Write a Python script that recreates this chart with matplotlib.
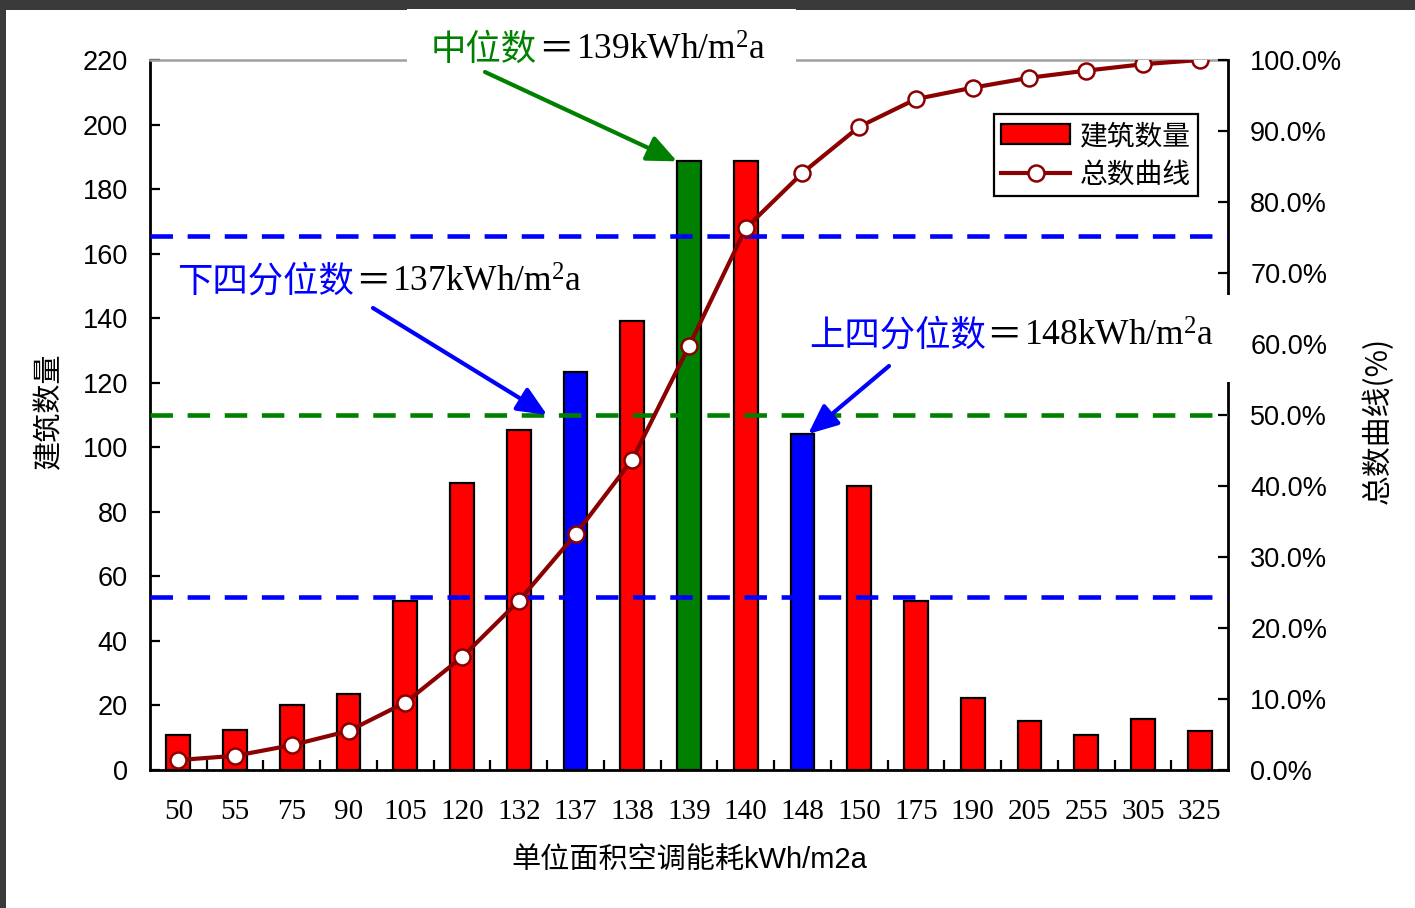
import matplotlib
matplotlib.use("Agg")
import matplotlib.pyplot as plt
from matplotlib.patches import Rectangle
from matplotlib.ticker import PercentFormatter, FixedLocator, NullFormatter

plt.rcParams['mathtext.fontset'] = 'custom'
plt.rcParams['mathtext.rm'] = 'Liberation Serif'
plt.rcParams['mathtext.it'] = 'Liberation Serif'
plt.rcParams['mathtext.default'] = 'rm'

# ---------------- data ----------------
categories = ['50', '55', '75', '90', '105', '120', '132', '137', '138', '139',
              '140', '148', '150', '175', '190', '205', '255', '305', '325']
counts = [11, 12.4, 20, 23.7, 52.3, 88.9, 105.4, 123.4, 139.1, 188.6,
          188.6, 104.1, 88.0, 52.3, 22.3, 15.2, 10.8, 15.8, 12.0]
bar_colors = ['red'] * 7 + ['blue', 'red', 'green', 'red', 'blue'] + ['red'] * 7
cumulative_pct = [1.4, 2.0, 3.5, 5.5, 9.5, 15.9, 23.8, 33.2, 43.7, 59.7,
                  76.3, 84.1, 90.6, 94.5, 96.1, 97.5, 98.5, 99.4, 100.0]
quartile_lines_pct = [75.2, 50.0, 24.4]
quartile_line_colors = ['blue', 'green', 'blue']
left_ticks = list(range(0, 221, 20))
right_ticks = list(range(0, 101, 10))

W, H = 1415, 908
fig = plt.figure(figsize=(W / 100, H / 100), dpi=100)
fig.patch.set_facecolor('white')

def fx(px):
    return px / W

def fy(py):
    return 1 - py / H

# screenshot-like dark frame
fig.add_artist(Rectangle((0, fy(10)), 1, 10 / H, transform=fig.transFigure,
                         facecolor='#3a3a3a', edgecolor='none', zorder=-5))
fig.add_artist(Rectangle((0, 0), 6 / W, 1, transform=fig.transFigure,
                         facecolor='#3a3a3a', edgecolor='none', zorder=-5))

ax = fig.add_axes([fx(150), fy(770), fx(1228) - fx(150), fy(60) - fy(770)])
ax2 = ax.twinx()

n = len(categories)
xs = list(range(n))
bw = 0.42
bars = ax.bar(xs, counts, width=bw, color=bar_colors, edgecolor='black',
              linewidth=1.6, label='建筑数量', zorder=2)

ax.set_xlim(-0.5, n - 0.5)
ax.set_ylim(0, 220)
ax.set_yticks(left_ticks)
ax.set_xticks(xs)
ax.set_xticklabels(categories, fontfamily='Liberation Serif', fontsize=21)
ax.xaxis.set_minor_locator(FixedLocator([i + 0.5 for i in range(n - 1)]))
ax.xaxis.set_minor_formatter(NullFormatter())
ax.tick_params(axis='x', which='major', length=0, pad=21)
ax.tick_params(axis='x', which='minor', direction='in', length=7, width=1.6)
ax.tick_params(axis='y', direction='in', length=7, width=1.6, pad=16,
               labelsize=19.5)
for lab in ax.get_yticklabels():
    lab.set_fontfamily('Liberation Sans')

for s in ['left', 'bottom']:
    ax.spines[s].set_linewidth(2.0)
    ax.spines[s].set_color('black')
ax.spines['top'].set_color('#a0a0a0')
ax.spines['top'].set_linewidth(1.8)
ax.spines['right'].set_visible(False)

# right axis
ax2.set_ylim(0, 100)
ax2.set_yticks(right_ticks)
ax2.yaxis.set_major_formatter(PercentFormatter(xmax=100, decimals=1))
ax2.tick_params(axis='y', direction='in', length=7, width=1.6, pad=16,
                labelsize=19.5)
for lab in ax2.get_yticklabels():
    lab.set_fontfamily('Liberation Sans')
ax2.spines['right'].set_linewidth(2.0)
ax2.spines['right'].set_color('black')
for s in ['top', 'left', 'bottom']:
    ax2.spines[s].set_visible(False)

for val, col in zip(quartile_lines_pct, quartile_line_colors):
    ax2.axhline(val, color=col, linewidth=3.3, linestyle=(0, (4.9, 3.2)), zorder=3)

line, = ax2.plot(xs, cumulative_pct, color='#8B0000', linewidth=3,
                 marker='o', markersize=11.5, markerfacecolor='white',
                 markeredgecolor='#8B0000', markeredgewidth=1.8,
                 label='总数曲线', zorder=4)

# axis titles
cjk = ['Noto Sans CJK SC']
fig.text(fx(49), fy(411), '建筑数量', rotation=90, ha='center', va='center',
         fontsize=21, family=cjk)
fig.text(fx(1378), fy(420), '总数曲线(%)', rotation=90, ha='center', va='center',
         fontsize=21.5, family=cjk)
fig.text(fx(689), fy(860), '单位面积空调能耗kWh/m2a', ha='center', va='center',
         fontsize=21, family=['Liberation Sans', 'Noto Sans CJK SC'])

# legend
leg = ax2.legend([bars.patches[0], line], ['建筑数量', '总数曲线'],
                 loc='upper right', bbox_to_anchor=(fx(1198), fy(114)),
                 bbox_transform=fig.transFigure, fancybox=False,
                 edgecolor='black', framealpha=1, handlelength=2.5,
                 handletextpad=0.35, borderpad=0.25, labelspacing=0.3,
                 borderaxespad=0, prop={'family': cjk, 'size': 20})
leg.get_frame().set_linewidth(1.6)

# white boxes behind annotation texts (they interrupt the spines)
for (x0, y0, x1, y1) in [(407, 9, 796, 74), (795, 295, 1234, 382)]:
    ax2.add_patch(Rectangle((fx(x0), fy(y1)), fx(x1) - fx(x0), fy(y0) - fy(y1),
                            transform=fig.transFigure, facecolor='white',
                            edgecolor='none', clip_on=False, zorder=3.5))

ann_size = 25.5

def three_part(x_split, x_eq, x_num, y_base, head, num, color):
    fig.text(fx(x_split), fy(y_base), head, ha='right', va='baseline',
             color=color, fontsize=ann_size, family=cjk, zorder=6)
    fig.text(fx(x_eq), fy(y_base), '＝', ha='left', va='baseline',
             color='black', fontsize=ann_size, family=cjk, zorder=6)
    fig.text(fx(x_num), fy(y_base), num, ha='left', va='baseline',
             color='black', fontsize=ann_size, family='Liberation Serif',
             zorder=6)

three_part(537, 538, 576, 60, '中位数', '139kWh/m$^2$a', 'green')
three_part(354, 355, 392, 292, '下四分位数', '137kWh/m$^2$a', 'blue')
three_part(986, 986, 1024, 346, '上四分位数', '148kWh/m$^2$a', 'blue')

arrow_style = '-|>,head_length=0.5,head_width=0.22'
i139 = categories.index('139')
i137 = categories.index('137')
i148 = categories.index('148')
ax2.annotate('', xy=(i139 - bw / 2, counts[i139]), xycoords=ax.transData,
             xytext=(fx(485), fy(72)), textcoords='figure fraction',
             arrowprops=dict(arrowstyle=arrow_style, color='green', lw=3,
                             mutation_scale=36, shrinkA=0, shrinkB=0),
             zorder=6)
ax2.annotate('', xy=(i137 - 0.5, quartile_lines_pct[1]), xycoords=ax2.transData,
             xytext=(fx(373), fy(308)), textcoords='figure fraction',
             arrowprops=dict(arrowstyle=arrow_style, color='blue', lw=3,
                             mutation_scale=36, shrinkA=0, shrinkB=0),
             zorder=6)
ax2.annotate('', xy=(i148 + 0.1, counts[i148]), xycoords=ax.transData,
             xytext=(fx(889), fy(366)), textcoords='figure fraction',
             arrowprops=dict(arrowstyle=arrow_style, color='blue', lw=3,
                             mutation_scale=36, shrinkA=0, shrinkB=0),
             zorder=6)

fig.savefig('out.png', dpi=100, facecolor='white')
